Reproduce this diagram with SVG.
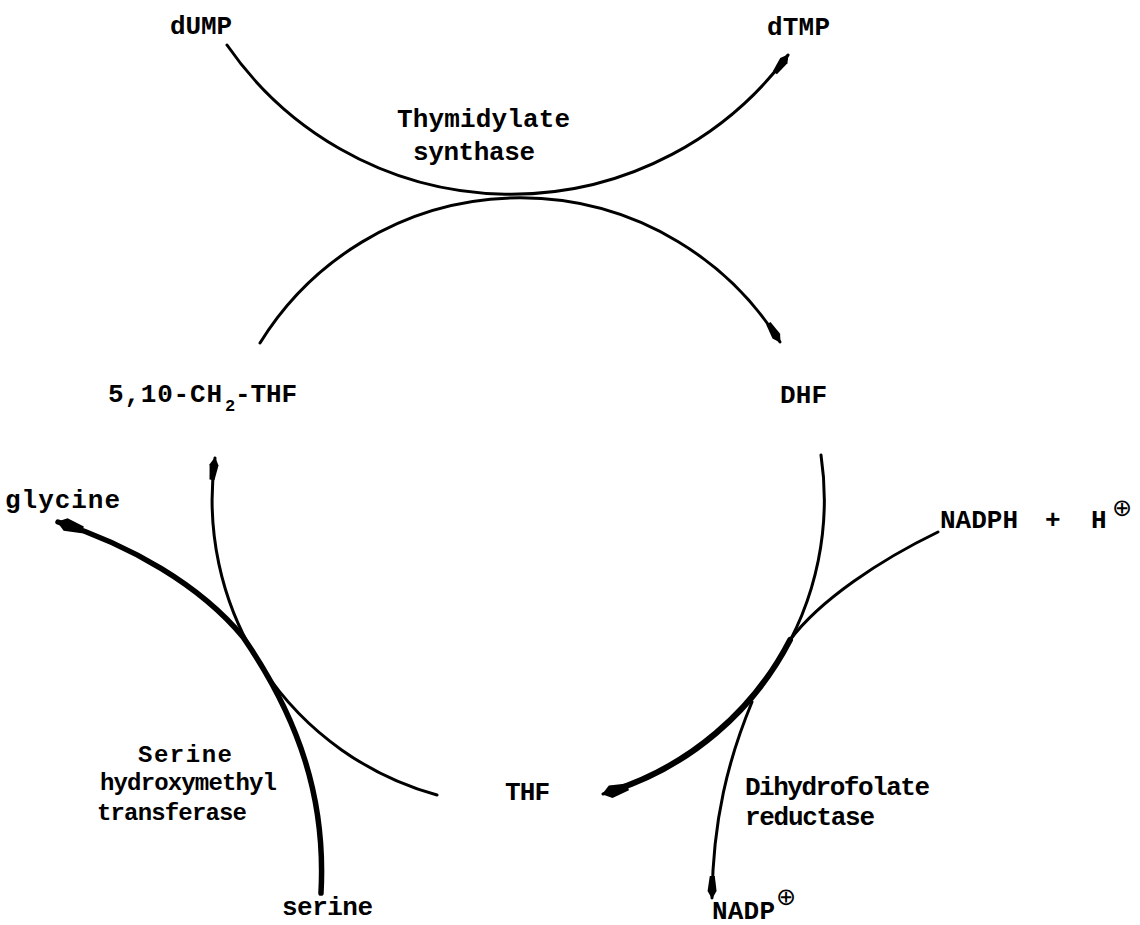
<svg xmlns="http://www.w3.org/2000/svg" width="1140" height="925" viewBox="0 0 1140 925">
  <defs>
    <style>
      .lbl { font-family: "Liberation Mono", "Courier New", monospace; font-weight: bold; font-size: 26px; fill: #000; }
      .sm  { font-size: 24px; }
      .sub { font-family: "Liberation Mono", "Courier New", monospace; font-weight: bold; font-size: 17px; fill: #000; }
      .sup { font-family: "DejaVu Sans", sans-serif; font-size: 24px; fill: #000; }
      .ln  { fill: none; stroke: #000; stroke-linecap: round; stroke-linejoin: round; }
      .thin { stroke-width: 3; }
      .thick { stroke-width: 5.5; }
    </style>
    <!-- slim, elongated typewriter-style arrowhead -->
    <marker id="ah" viewBox="-24 -7 26 14" refX="0" refY="0" markerWidth="26" markerHeight="14" orient="auto" markerUnits="userSpaceOnUse">
      <path d="M1,0 L-7,-4.5 L-22,-2.5 L-22,2.5 L-7,4.5 Z" fill="#000"/>
    </marker>
    <marker id="ahL" viewBox="-28 -9 30 18" refX="0" refY="0" markerWidth="30" markerHeight="18" orient="auto" markerUnits="userSpaceOnUse">
      <path d="M1,0 L-8,-6.5 L-26,-3.5 L-26,3.5 L-8,6.5 Z" fill="#000"/>
    </marker>
  </defs>

  <g id="connectors">
    <!-- dUMP -> dTMP -->
    <path class="ln thin" d="M227,45 A345,345 0 0 0 788,55" marker-end="url(#ah)"/>
    <!-- 5,10-CH2-THF -> DHF (top of the folate cycle) -->
    <path class="ln thin" d="M260,343 A306,306 0 0 1 780,342" marker-end="url(#ah)"/>
    <!-- DHF -> THF -->
    <path class="ln thin" d="M821,455 A306,306 0 0 1 603,794" marker-end="url(#ahL)"/>
    <!-- NADPH + H+ feeding into the DHF -> THF step -->
    <path class="ln thin" d="M938,532 C 880,560 820,600 790,640"/>
    <path class="ln" stroke-width="6" d="M790,640 A306,306 0 0 1 612,791"/>
    <!-- NADP+ released -->
    <path class="ln thin" d="M752,702 C 728,760 713,820 712,898" marker-end="url(#ah)"/>
    <!-- THF -> 5,10-CH2-THF -->
    <path class="ln thin" d="M437,795 A306,306 0 0 1 215,458" marker-end="url(#ah)"/>
    <!-- serine -> glycine -->
    <path class="ln thick" d="M321,893 C 326,800 300,720 243,637 C 200,585 130,545 58,522" marker-end="url(#ahL)"/>
  </g>

  <g id="node-dUMP"><text class="lbl" x="170" y="34" textLength="62">dUMP</text></g>
  <g id="node-dTMP"><text class="lbl" x="767" y="35" textLength="63">dTMP</text></g>
  <g id="enzyme-ts">
    <text class="lbl" x="397" y="127" textLength="173">Thymidylate</text>
    <text class="lbl" x="413" y="160" textLength="122">synthase</text>
  </g>
  <g id="node-CH2THF">
    <text class="lbl" x="108" y="402" textLength="114">5,10-CH</text>
    <text class="sub" x="225" y="411">2</text>
    <text class="lbl" x="235" y="402" textLength="62">-THF</text>
  </g>
  <g id="node-DHF"><text class="lbl" x="780" y="403" textLength="47">DHF</text></g>
  <g id="node-glycine"><text class="lbl" x="5" y="508" textLength="115">glycine</text></g>
  <g id="node-NADPH">
    <text class="lbl" x="940" y="528"><tspan textLength="78">NADPH</tspan><tspan x="1045">+</tspan><tspan x="1091">H</tspan></text>
    <text class="sup" x="1112" y="516">⊕</text>
  </g>
  <g id="enzyme-shmt">
    <text class="lbl sm" x="138" y="762" textLength="94">Serine</text>
    <text class="lbl sm" x="100" y="790" textLength="177">hydroxymethyl</text>
    <text class="lbl sm" x="97" y="820" textLength="150">transferase</text>
  </g>
  <g id="node-THF"><text class="lbl" x="505" y="800" textLength="45">THF</text></g>
  <g id="enzyme-dhfr">
    <text class="lbl" x="745" y="795" textLength="185">Dihydrofolate</text>
    <text class="lbl" x="745" y="825" textLength="130">reductase</text>
  </g>
  <g id="node-serine"><text class="lbl" x="282" y="915" textLength="91">serine</text></g>
  <g id="node-NADP">
    <text class="lbl" x="712" y="919" textLength="63">NADP</text>
    <text class="sup" x="776" y="905">⊕</text>
  </g>
</svg>
